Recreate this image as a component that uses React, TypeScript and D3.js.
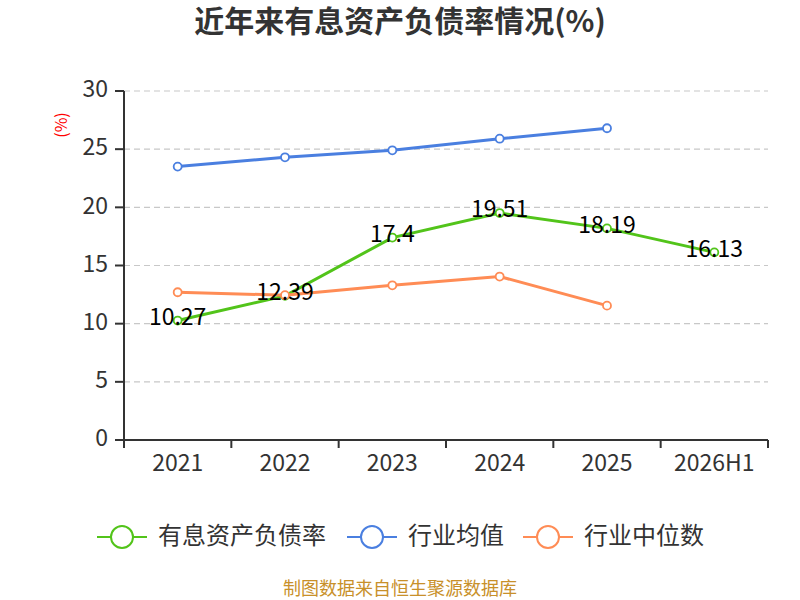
import * as d3 from 'd3';

const categories = ['2021', '2022', '2023', '2024', '2025', '2026H1'];
const debtRatio = [10.27, 12.39, 17.4, 19.51, 18.19, 16.13];
const industryAvg = [23.5, 24.3, 24.9, 25.9, 26.8];
const industryMedian = [12.7, 12.45, 13.3, 14.05, 11.55];
const yTicks = [0, 5, 10, 15, 20, 25, 30];
const seriesNames = ['有息资产负债率', '行业均值', '行业中位数'];

const colors = ['#52c41a', '#4a7fe0', '#ff8c55'];
const font = '"Noto Sans CJK SC", "Noto Sans", sans-serif';

const width = 800;
const height = 600;
const left = 124;
const right = 768;
const top = 91;
const bottom = 440;

export default function App() {
  const x = d3.scaleBand<string>().domain(categories).range([left, right]);
  const y = d3.scaleLinear().domain([0, 30]).range([bottom, top]);
  const cx = (c: string) => (x(c) as number) + x.bandwidth() / 2;

  const line = d3
    .line<number>()
    .x((_, i) => cx(categories[i]))
    .y(d => y(d));

  const series = [debtRatio, industryAvg, industryMedian];
  const legendX = [97, 347, 523];

  return (
    <svg width={width} height={height} style={{ position: 'absolute', left: 0, top: 0, fontFamily: font }}>
      <rect width={width} height={height} fill="#fff" />
      <text x={400} y={24} textAnchor="middle" dominantBaseline="middle" fontSize={30} fontWeight="bold" fill="#333">
        近年来有息资产负债率情况(%)
      </text>
      <text
        transform={`translate(63,125) rotate(-90)`}
        textAnchor="middle"
        dominantBaseline="middle"
        fontSize={16}
        fill="#ff0000"
      >
        (%)
      </text>

      {/* grid */}
      {yTicks.slice(1).map(t => (
        <line key={t} x1={left} x2={right} y1={y(t)} y2={y(t)} stroke="#c8c8c8" strokeDasharray="6,4" strokeWidth={1.2} />
      ))}

      {/* y axis */}
      <line x1={left} x2={left} y1={top} y2={bottom + 8} stroke="#333" strokeWidth={2} />
      {yTicks.map(t => (
        <g key={t}>
          <line x1={left - 9} x2={left} y1={y(t)} y2={y(t)} stroke="#333" strokeWidth={2} />
          <text x={left - 16} y={y(t)} textAnchor="end" dominantBaseline="middle" fontSize={23} fill="#333">
            {t}
          </text>
        </g>
      ))}

      {/* x axis */}
      <line x1={left} x2={right} y1={bottom} y2={bottom} stroke="#333" strokeWidth={2} />
      {categories.map(c => (x(c) as number)).concat([right]).map((px, i) => (
        <line key={i} x1={px} x2={px} y1={bottom} y2={bottom + 8} stroke="#333" strokeWidth={2} />
      ))}
      {categories.map(c => (
        <text key={c} x={cx(c)} y={465} textAnchor="middle" dominantBaseline="middle" fontSize={23} fill="#333">
          {c}
        </text>
      ))}

      {/* lines */}
      {series.map((s, si) => (
        <g key={si}>
          <path d={line(s) as string} fill="none" stroke={colors[si]} strokeWidth={3} />
          {s.map((v, i) => (
            <circle key={i} cx={cx(categories[i])} cy={y(v)} r={4} fill="#fff" stroke={colors[si]} strokeWidth={1.8} />
          ))}
        </g>
      ))}

      {/* value labels */}
      {debtRatio.map((v, i) => (
        <text
          key={i}
          x={cx(categories[i])}
          y={y(v) - 2}
          textAnchor="middle"
          dominantBaseline="middle"
          fontSize={23}
          fill="#000"
        >
          {v}
        </text>
      ))}

      {/* legend */}
      {seriesNames.map((n, i) => (
        <g key={n}>
          <line x1={legendX[i]} x2={legendX[i] + 50} y1={537} y2={537} stroke={colors[i]} strokeWidth={2} />
          <circle cx={legendX[i] + 25} cy={537} r={11} fill="#fff" stroke={colors[i]} strokeWidth={2} />
          <text x={legendX[i] + 61} y={537} dominantBaseline="middle" fontSize={24} fill="#333">
            {n}
          </text>
        </g>
      ))}

      <text x={400} y={590} textAnchor="middle" dominantBaseline="middle" fontSize={18} fill="#c8902a">
        制图数据来自恒生聚源数据库
      </text>
    </svg>
  );
}
